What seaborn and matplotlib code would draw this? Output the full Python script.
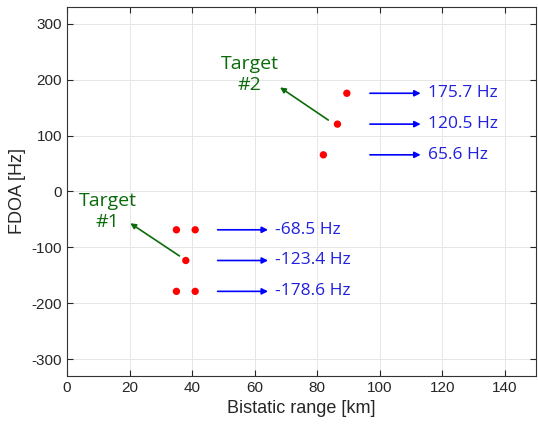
import pandas as pd
import seaborn as sns
import matplotlib.pyplot as plt

# detected peaks (bistatic range km, FDOA Hz)
t1_range = [35, 41, 38, 35, 41]
t1_fdoa = [-68.5, -68.5, -123.4, -178.6, -178.6]
t2_range = [89.5, 86.5, 82]
t2_fdoa = [175.7, 120.5, 65.6]

# frequency labels
t1_labels = ["-68.5 Hz", "-123.4 Hz", "-178.6 Hz"]
t1_label_y = [-68.5, -123.4, -178.6]
t2_labels = ["175.7 Hz", "120.5 Hz", "65.6 Hz"]
t2_label_y = [175.7, 120.5, 65.6]

data = pd.DataFrame({
    "range": t1_range + t2_range,
    "fdoa": t1_fdoa + t2_fdoa,
})

sns.set_style("whitegrid")
plt.rcParams["font.family"] = ["Liberation Sans", "DejaVu Sans"]
plt.rcParams["axes.unicode_minus"] = False

fig = plt.figure(figsize=(5.38, 4.24), dpi=100)
ax = fig.add_axes([0.1245, 0.1132, 0.8718, 0.8703])

sns.scatterplot(data=data, x="range", y="fdoa", color="red", s=28,
                edgecolor="none", ax=ax, zorder=3)

ax.set_xlim(0, 150)
ax.set_ylim(-330, 330)
ax.set_xticks([0, 20, 40, 60, 80, 100, 120, 140])
ax.set_yticks([-300, -200, -100, 0, 100, 200, 300])
ax.set_xlabel("Bistatic range [km]", fontsize=13, color="#262626")
ax.set_ylabel("FDOA [Hz]", fontsize=13, color="#262626")
ax.tick_params(direction="in", length=4, labelsize=11, colors="#262626",
               top=True, right=True, bottom=True, left=True,
               labeltop=False, labelright=False)
ax.grid(True, color="#e6e6e6", linewidth=0.7)
for s in ax.spines.values():
    s.set_color("#333333")
    s.set_linewidth(0.8)

txt = dict(family=["Open Sans", "DejaVu Sans"], fontsize=12.5)

# blue arrows + labels
for y, lab in zip(t1_label_y, t1_labels):
    ax.annotate("", xy=(65.2, y), xytext=(47.3, y),
                arrowprops=dict(arrowstyle="-|>", color="blue", lw=1.2,
                                mutation_scale=9))
    ax.text(66.5, y, lab, color="#2020dd", va="center", ha="left", **txt)
for y, lab in zip(t2_label_y, t2_labels):
    ax.annotate("", xy=(114, y), xytext=(96, y),
                arrowprops=dict(arrowstyle="-|>", color="blue", lw=1.2,
                                mutation_scale=9))
    ax.text(115.5, y, lab, color="#2020dd", va="center", ha="left", **txt)

# target labels
green_txt = dict(txt, fontsize=14)
ax.annotate("", xy=(19.5, -54), xytext=(36.7, -118),
            arrowprops=dict(arrowstyle="-|>", color="#0b6b0b", lw=1.2,
                            mutation_scale=8))
ax.text(13, -36, "Target\n#1", color="#0b6b0b", ha="center", va="center",
        linespacing=1.25, **green_txt)
ax.annotate("", xy=(67.4, 189), xytext=(84.3, 125),
            arrowprops=dict(arrowstyle="-|>", color="#0b6b0b", lw=1.2,
                            mutation_scale=8))
ax.text(58.5, 209, "Target\n#2", color="#0b6b0b", ha="center", va="center",
        linespacing=1.25, **green_txt)

fig.savefig("out.png", dpi=100)
